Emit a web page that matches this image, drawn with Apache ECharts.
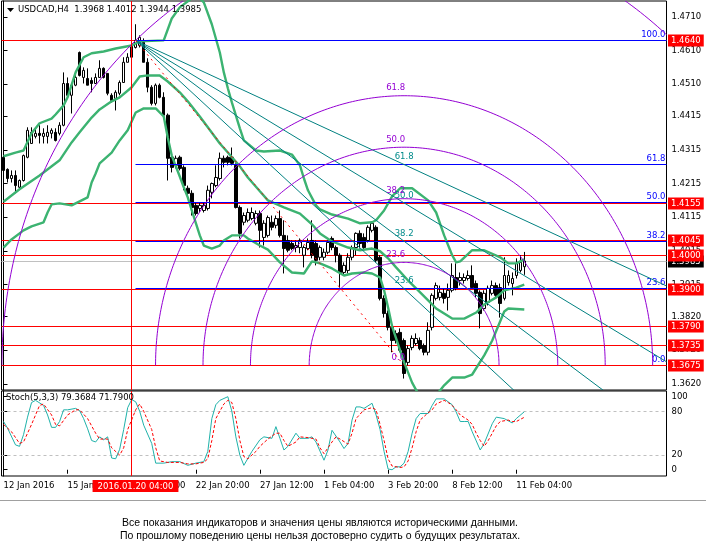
<!DOCTYPE html>
<html><head><meta charset="utf-8">
<script src="https://cdn.jsdelivr.net/npm/echarts@6/dist/echarts.min.js"></script>
<style>html,body{margin:0;padding:0;background:#fff}#c{width:706px;height:552px}</style>
</head><body><div id="c"></div>
<script>
// ---- data ----
const symbolName = 'USDCAD,H4';
const open = [1.4293,1.4257,1.4230,1.4239,1.4204,1.4224,1.4293,1.4334,1.4355,1.4364,1.4355,1.4355,1.4364,1.4367,1.4364,1.4388,1.4512,1.4477,1.4507,1.4604,1.4530,1.4527,1.4521,1.4512,1.4530,1.4557,1.4542,1.4477,1.4468,1.4483,1.4515,1.4575,1.4590,1.4619,1.4625,1.4634,1.4575,1.4501,1.4453,1.4507,1.4471,1.4418,1.4293,1.4269,1.4293,1.4263,1.4201,1.4186,1.4150,1.4141,1.4135,1.4141,1.4189,1.4209,1.4230,1.4290,1.4293,1.4293,1.4269,1.4144,1.4100,1.4106,1.4111,1.4097,1.4126,1.4055,1.4061,1.4100,1.4091,1.4111,1.4061,1.4046,1.4037,1.4025,1.4025,1.4002,1.4022,1.4046,1.4037,1.3996,1.3996,1.4011,1.4052,1.4025,1.4002,1.3951,1.3957,1.3996,1.4025,1.4067,1.4055,1.4046,1.4076,1.4085,1.3996,1.3874,1.3829,1.3788,1.3770,1.3773,1.3749,1.3684,1.3728,1.3740,1.3749,1.3734,1.3714,1.3788,1.3874,1.3877,1.3889,1.3877,1.3898,1.3936,1.3927,1.3927,1.3933,1.3942,1.3918,1.3892,1.3844,1.3862,1.3889,1.3912,1.3906,1.3874,1.3921,1.3918,1.3942,1.3957,1.3968];
const high = [1.4298,1.4260,1.4254,1.4254,1.4227,1.4301,1.4382,1.4382,1.4382,1.4388,1.4379,1.4388,1.4379,1.4379,1.4397,1.4545,1.4530,1.4512,1.4545,1.4607,1.4560,1.4557,1.4530,1.4542,1.4581,1.4560,1.4542,1.4483,1.4492,1.4521,1.4590,1.4602,1.4646,1.4688,1.4655,1.4646,1.4587,1.4507,1.4512,1.4512,1.4486,1.4423,1.4298,1.4298,1.4298,1.4269,1.4209,1.4195,1.4159,1.4159,1.4159,1.4209,1.4218,1.4269,1.4307,1.4298,1.4298,1.4322,1.4275,1.4150,1.4129,1.4141,1.4144,1.4135,1.4135,1.4106,1.4120,1.4120,1.4120,1.4135,1.4106,1.4061,1.4046,1.4046,1.4052,1.4031,1.4052,1.4106,1.4046,1.4031,1.4022,1.4046,1.4058,1.4031,1.4008,1.3981,1.4008,1.4031,1.4070,1.4076,1.4067,1.4091,1.4103,1.4091,1.4002,1.3883,1.3838,1.3794,1.3779,1.3785,1.3755,1.3734,1.3764,1.3770,1.3758,1.3740,1.3803,1.3889,1.3921,1.3912,1.3904,1.3918,1.3978,1.3978,1.3951,1.3948,1.3957,1.3972,1.3927,1.3898,1.3898,1.3912,1.3927,1.3921,1.3918,1.3996,1.3957,1.3951,1.3993,1.4002,1.4012];
const low = [1.4248,1.4218,1.4218,1.4186,1.4198,1.4221,1.4290,1.4334,1.4349,1.4334,1.4334,1.4334,1.4349,1.4340,1.4358,1.4385,1.4471,1.4423,1.4504,1.4533,1.4512,1.4507,1.4486,1.4512,1.4530,1.4527,1.4477,1.4456,1.4432,1.4477,1.4515,1.4575,1.4587,1.4616,1.4619,1.4575,1.4486,1.4447,1.4447,1.4468,1.4418,1.4224,1.4248,1.4260,1.4254,1.4195,1.4171,1.4120,1.4120,1.4129,1.4129,1.4135,1.4171,1.4204,1.4224,1.4263,1.4269,1.4269,1.4141,1.4052,1.4091,1.4100,1.4106,1.4091,1.4025,1.4031,1.4055,1.4076,1.4082,1.4055,1.3948,1.4011,1.4017,1.4011,1.4008,1.3966,1.4017,1.3993,1.3972,1.3987,1.3987,1.4005,1.4017,1.3981,1.3906,1.3942,1.3948,1.3987,1.4002,1.4022,1.4017,1.4040,1.4070,1.3981,1.3868,1.3817,1.3779,1.3714,1.3740,1.3714,1.3636,1.3675,1.3720,1.3734,1.3720,1.3705,1.3705,1.3779,1.3868,1.3868,1.3859,1.3838,1.3892,1.3898,1.3912,1.3918,1.3927,1.3904,1.3877,1.3785,1.3838,1.3853,1.3883,1.3877,1.3817,1.3868,1.3912,1.3883,1.3933,1.3951,1.3944];
const close = [1.4254,1.4230,1.4239,1.4209,1.4224,1.4298,1.4373,1.4367,1.4364,1.4358,1.4364,1.4367,1.4373,1.4343,1.4388,1.4512,1.4477,1.4507,1.4530,1.4536,1.4551,1.4507,1.4512,1.4530,1.4557,1.4530,1.4483,1.4462,1.4486,1.4515,1.4575,1.4590,1.4625,1.4640,1.4649,1.4575,1.4501,1.4453,1.4507,1.4471,1.4418,1.4290,1.4263,1.4290,1.4260,1.4209,1.4186,1.4144,1.4126,1.4150,1.4150,1.4195,1.4215,1.4233,1.4290,1.4278,1.4278,1.4275,1.4144,1.4067,1.4120,1.4129,1.4129,1.4126,1.4076,1.4097,1.4114,1.4085,1.4111,1.4061,1.4022,1.4017,1.4022,1.4031,1.4046,1.4025,1.4040,1.4002,1.3987,1.4025,1.4011,1.4040,1.4025,1.4002,1.3951,1.3972,1.3996,1.4025,1.4067,1.4037,1.4025,1.4085,1.4097,1.3987,1.3874,1.3829,1.3788,1.3749,1.3749,1.3720,1.3651,1.3725,1.3755,1.3755,1.3725,1.3714,1.3779,1.3883,1.3912,1.3892,1.3874,1.3898,1.3942,1.3904,1.3936,1.3936,1.3942,1.3906,1.3889,1.3829,1.3889,1.3904,1.3912,1.3883,1.3859,1.3942,1.3942,1.3933,1.3978,1.3981,1.3985];

// Bollinger bands: [bar index, price]
const bbUpper = [[0,1.4296],[3,1.4307],[5,1.4313],[7,1.4364],[9,1.4394],[12,1.4408],[13,1.4420],[15,1.4447],[16,1.4471],[18,1.4545],[20,1.4590],[22,1.4602],[25,1.4607],[28,1.4616],[32,1.4625],[34,1.4637],[40,1.4640],[42,1.4705],[44,1.4738],[47,1.4765],[49,1.4765],[50,1.4753],[52,1.4688],[54,1.4604],[55,1.4545],[56,1.4498],[57,1.4456],[59,1.4379],[60,1.4343],[63,1.4313],[65,1.4310],[69,1.4313],[72,1.4301],[74,1.4269],[75,1.4230],[76,1.4195],[78,1.4150],[79,1.4138],[82,1.4123],[86,1.4111],[89,1.4097],[92,1.4100],[93,1.4106],[95,1.4135],[97,1.4177],[99,1.4201],[102,1.4201],[106,1.4165],[108,1.4129],[110,1.4061],[112,1.4002],[113,1.3981],[114,1.3984],[117,1.4017],[120,1.4017],[124,1.3996],[126,1.3978],[128,1.3978],[130,1.3990]];
const bbMiddle = [[0,1.4161],[4,1.4198],[9,1.4239],[14,1.4284],[17,1.4337],[19,1.4367],[22,1.4411],[24,1.4435],[27,1.4459],[29,1.4471],[32,1.4501],[34,1.4533],[36,1.4536],[39,1.4536],[41,1.4518],[44,1.4486],[46,1.4459],[49,1.4414],[51,1.4382],[54,1.4334],[56,1.4307],[59,1.4266],[61,1.4233],[64,1.4192],[66,1.4165],[70,1.4144],[74,1.4126],[77,1.4094],[79,1.4067],[82,1.4043],[86,1.4025],[89,1.4017],[92,1.4022],[94,1.4014],[96,1.3993],[98,1.3966],[101,1.3927],[103,1.3904],[106,1.3868],[108,1.3844],[112,1.3814],[115,1.3814],[118,1.3832],[120,1.3856],[123,1.3877],[125,1.3898],[128,1.3906],[130,1.3915]];
const bbLower = [[0,1.4025],[2,1.4049],[5,1.4076],[7,1.4088],[10,1.4100],[11,1.4129],[12,1.4153],[14,1.4156],[17,1.4150],[19,1.4162],[21,1.4174],[22,1.4218],[23,1.4245],[24,1.4275],[27,1.4307],[29,1.4343],[31,1.4373],[33,1.4426],[35,1.4438],[38,1.4438],[40,1.4414],[41,1.4352],[42,1.4298],[44,1.4236],[45,1.4204],[46,1.4174],[47,1.4135],[49,1.4061],[50,1.4031],[52,1.4022],[54,1.4031],[55,1.4046],[57,1.4061],[60,1.4061],[61,1.4052],[64,1.4031],[66,1.4019],[69,1.3981],[72,1.3951],[75,1.3948],[77,1.3984],[79,1.3978],[82,1.3963],[85,1.3942],[87,1.3948],[90,1.3951],[92,1.3948],[94,1.3936],[95,1.3898],[96,1.3847],[97,1.3791],[100,1.3684],[102,1.3624],[104,1.3580],[106,1.3565],[108,1.3586],[110,1.3616],[112,1.3639],[115,1.3639],[117,1.3648],[120,1.3705],[122,1.3749],[125,1.3835],[126,1.3844],[130,1.3841]];

// Stochastic (5,3,3): [bar index, value]
const stochK = [[0,66],[1,57],[3,34],[4,32],[5,48],[6,72],[7,92],[8,95],[10,88],[11,75],[12,58],[13,58],[14,66],[15,82],[16,82],[18,84],[19,81],[20,70],[21,56],[22,40],[23,38],[24,45],[25,41],[26,45],[27,16],[28,15],[29,28],[30,55],[31,85],[32,96],[33,93],[34,80],[35,61],[37,36],[38,9],[40,9],[42,11],[44,11],[46,6],[48,9],[50,11],[51,25],[52,70],[53,89],[54,95],[56,100],[57,80],[58,45],[59,20],[60,6],[62,25],[64,41],[65,45],[67,43],[68,59],[69,43],[70,27],[71,32],[73,50],[74,43],[76,43],[77,45],[78,38],[80,13],[81,27],[82,54],[84,38],[85,29],[86,36],[87,68],[88,86],[89,86],[90,84],[92,91],[93,75],[94,55],[95,25],[96,1],[97,0],[98,4],[99,4],[100,9],[101,25],[102,50],[103,70],[104,77],[106,77],[107,88],[108,97],[110,97],[111,93],[112,89],[113,79],[114,66],[115,66],[116,66],[117,52],[119,27],[120,36],[122,63],[123,72],[125,70],[127,64],[128,70],[130,79.37]];
const stochD = [[0,62],[2,52],[4,36],[5,38],[7,62],[9,88],[10,90],[12,75],[13,62],[14,60],[16,75],[18,82],[19,82],[21,70],[23,50],[24,42],[26,42],[27,30],[29,20],[30,30],[31,55],[33,82],[34,90],[35,80],[37,55],[38,30],[39,12],[41,10],[44,10],[46,8],[48,8],[50,10],[51,15],[52,40],[53,70],[55,90],[56,95],[57,92],[58,70],[59,40],[60,18],[61,15],[63,25],[64,32],[66,42],[68,50],[69,50],[70,40],[71,32],[73,38],[74,45],[76,44],[78,42],[79,30],[80,22],[82,38],[83,45],[84,42],[86,35],[87,50],[88,70],[90,82],[92,85],[93,82],[94,62],[95,40],[96,15],[97,5],[99,3],[100,4],[101,12],[102,30],[103,52],[104,68],[106,78],[107,82],[108,90],[110,95],[111,92],[112,88],[113,82],[114,75],[116,68],[117,62],[118,50],[119,40],[120,32],[121,40],[122,50],[123,60],[124,66],[126,68],[127,66],[128,66],[130,71.79]];
const stochLevels = [80, 20];

// horizontal price levels
const redLevels = [1.4640, 1.4155, 1.4045, 1.4000, 1.3900, 1.3790, 1.3735, 1.3675];
const bidLevel = 1.3985;

// Fibonacci tools anchors: (bar index, price)
const fibP1 = [33, 1.4640];
const fibP2 = [100, 1.3675];
const fibRetrLevels = [0, 0.236, 0.382, 0.5, 0.618, 1.0];
const fibRetrLabels = ['0.0', '23.6', '38.2', '50.0', '61.8', '100.0'];
const fanLevels = [0.236, 0.382, 0.5, 0.618];
const fanLabels = ['23.6', '38.2', '50.0', '61.8'];
const arcLevels = [0, 0.236, 0.382, 0.5, 0.618, 1.0];
const arcLabels = ['0.0', '23.6', '38.2', '50.0', '61.8', '100.0'];
const arcAspect = 1.085;

// axes
const slotCount = 166;
const crossIndex = 32;
const crossLabel = '2016.01.20 04:00';
const xTickIndex = [0, 16, 32, 48, 64, 80, 96, 112, 128];
const xTickLabels = ['12 Jan 2016', '15 Jan 12:00', '20 Jan 04:00', '22 Jan 20:00', '27 Jan 12:00', '1 Feb 04:00', '3 Feb 20:00', '8 Feb 12:00', '11 Feb 04:00'];
const priceTicks = [1.4710, 1.4610, 1.4510, 1.4415, 1.4315, 1.4215, 1.4115, 1.4015, 1.3915, 1.3820, 1.3720, 1.3620];
const stochTicks = [0, 20, 80, 100];
const stochHeader = 'Stoch(5,3,3) 79.3684 71.7900';
const disclaimer = ['Все показания индикаторов и значения цены являются историческими данными.',
                    'По прошлому поведению цены нельзя достоверно судить о будущих результатах.'];

// ---- build ----
const FONT = 'DejaVu Sans';
const FS = 8.5;
const FONTSTR = FS + 'px ' + FONT;
const slots = Array.from({length: slotCount}, (_, i) => String(i));
const candles = open.map((o, i) => [o, close[i], low[i], high[i]]);
const last = open.length - 1;
const header = symbolName + '  ' + [open[last], high[last], low[last], close[last]].map(v => v.toFixed(4)).join(' ');
const fibRange = fibP1[1] - fibP2[1];
const isTick = (idx) => xTickIndex.indexOf(idx) >= 0;
const snap = v => Math.round(v - 0.5) + 0.5;

const chart = echarts.init(document.getElementById('c'));

function clipRect(params) {
  const cs = params.coordSys;
  return {type: 'rect', shape: {x: cs.x, y: cs.y, width: cs.width, height: cs.height}};
}

// full-width horizontal level with price box on the axis
function makeLevelRenderer(lineColor, boxColor) {
  return function (params, api) {
    const cs = params.coordSys;
    const v = api.value(1);
    const y = snap(api.coord([0, v])[1]);
    return {type: 'group', children: [
      {type: 'line', shape: {x1: cs.x, y1: y, x2: cs.x + cs.width, y2: y}, style: {stroke: lineColor, lineWidth: 1}},
      {type: 'text', x: cs.x + cs.width + 1.5, y: y,
       style: {text: v.toFixed(4), fill: '#fff', backgroundColor: boxColor, padding: [2, 3, 1, 3], font: FONTSTR,
               align: 'left', verticalAlign: 'middle', textAlign: 'left', textVerticalAlign: 'middle'}}
    ]};
  };
}

function renderRetr(params, api) {
  const cs = params.coordSys;
  const pt = api.coord([api.value(0), api.value(1)]);
  const y = snap(pt[1]);
  const x0 = snap(pt[0]);
  const x1 = cs.x + cs.width;
  const children = [];
  if (fibRetrLevels[params.dataIndex] > 0) {
    children.push({type: 'line', shape: {x1: x0, y1: y, x2: x1, y2: y}, style: {stroke: '#0000ff', lineWidth: 1}});
  }
  children.push({type: 'text', x: x1 - 1, y: y - 1,
     style: {text: fibRetrLabels[params.dataIndex], fill: '#0000ff', font: FONTSTR,
             align: 'right', verticalAlign: 'bottom', textAlign: 'right', textVerticalAlign: 'bottom'}});
  return {type: 'group', children};
}

function renderCross(withLabel) {
  return function (params, api) {
    const cs = params.coordSys;
    const x = snap(api.coord([crossIndex, api.value(1)])[0]);
    const children = [{type: 'line', shape: {x1: x, y1: cs.y, x2: x, y2: cs.y + cs.height},
                       style: {stroke: '#ff0000', lineWidth: 1}}];
    if (withLabel) {
      children.push({type: 'text', x: x + 4, y: cs.y + cs.height + 4,
        style: {text: crossLabel, fill: '#fff', backgroundColor: '#ff0000', padding: [2, 5, 1, 5], font: FONTSTR,
                align: 'center', verticalAlign: 'top', textAlign: 'center', textVerticalAlign: 'top'}});
    }
    return {type: 'group', children};
  };
}

function renderArc(params, api) {
  const lvl = api.value(2);
  const lbl = arcLabels[params.dataIndex];
  const c = api.coord([fibP2[0], fibP2[1]]);
  const p = api.coord([fibP1[0], fibP1[1]]);
  const dx = c[0] - p[0], dy = (c[1] - p[1]) / arcAspect;
  const R = Math.sqrt(dx * dx + dy * dy);
  const rx = R * lvl, ry = R * arcAspect * lvl;
  const children = [];
  if (lvl > 0) {
    const pts = [];
    for (let k = 0; k <= 240; k++) {
      const t = Math.PI * k / 240;
      pts.push([c[0] + rx * Math.cos(t), c[1] - ry * Math.sin(t)]);
    }
    children.push({type: 'polyline', shape: {points: pts}, clipPath: clipRect(params),
      style: {stroke: '#9400d3', lineWidth: 1, fill: null}});
  }
  children.push({type: 'text', x: c[0] + 1, y: c[1] - ry - 3,
    style: {text: lbl, fill: '#9400d3', font: FONTSTR, align: 'right', verticalAlign: 'bottom',
            textAlign: 'right', textVerticalAlign: 'bottom'}});
  return {type: 'group', children};
}

function renderFan(params, api) {
  const lvl = api.value(2);
  const lbl = fanLabels[params.dataIndex];
  const p = api.coord([fibP1[0], fibP1[1]]);
  const t = api.coord([fibP2[0], fibP2[1] + lvl * fibRange]);
  const end = [p[0] + (t[0] - p[0]) * 4, p[1] + (t[1] - p[1]) * 4];
  return {type: 'group', children: [
    {type: 'line', shape: {x1: p[0], y1: p[1], x2: end[0], y2: end[1]}, clipPath: clipRect(params),
     style: {stroke: '#008080', lineWidth: 1}},
    {type: 'text', x: t[0], y: t[1] - 3,
     style: {text: lbl, fill: '#008b8b', font: FONTSTR, align: 'center', verticalAlign: 'bottom',
             textAlign: 'center', textVerticalAlign: 'bottom'}}
  ]};
}

const bandStyle = {color: '#3cb371', width: 2.4};
const labelBase = {fontFamily: FONT, fontSize: FS};

const option = {
  animation: false,
  backgroundColor: '#ffffff',
  textStyle: {fontFamily: FONT},
  grid: [
    {left: 1.5, right: 39.5, top: 1, height: 389, show: true, borderColor: '#000', borderWidth: 1},
    {left: 1.5, right: 39.5, top: 391, height: 85, show: true, borderColor: '#000', borderWidth: 1}
  ],
  xAxis: [
    {type: 'category', gridIndex: 0, data: slots, boundaryGap: true, show: false},
    {type: 'value', gridIndex: 0, min: -0.5, max: slotCount - 0.5, show: false},
    {type: 'category', gridIndex: 1, data: slots, boundaryGap: true,
     axisLine: {show: false},
     axisTick: {show: true, interval: isTick, alignWithLabel: true, length: 4, lineStyle: {color: '#000'}},
     axisLabel: Object.assign({interval: isTick, formatter: (v, i) => xTickLabels[xTickIndex.indexOf(i)] || '',
       align: 'left', margin: 5, color: '#000'}, labelBase),
     splitLine: {show: false}},
    {type: 'value', gridIndex: 1, min: -0.5, max: slotCount - 0.5, show: false}
  ],
  yAxis: [
    {type: 'value', gridIndex: 0, position: 'right', min: 1.3602, max: 1.4757,
     axisLine: {show: true, lineStyle: {color: '#000'}},
     axisTick: {show: true, customValues: priceTicks, length: 4, lineStyle: {color: '#000'}},
     axisLabel: Object.assign({customValues: priceTicks, formatter: v => v.toFixed(4), color: '#000', margin: 5}, labelBase),
     splitLine: {show: false}},
    {type: 'value', gridIndex: 1, position: 'right', min: -8.6, max: 107.8,
     axisLine: {show: true, lineStyle: {color: '#000'}},
     axisTick: {show: true, customValues: stochTicks, length: 4, lineStyle: {color: '#000'}},
     axisLabel: Object.assign({customValues: stochTicks, formatter: v => String(v), color: '#000', margin: 5}, labelBase),
     splitLine: {show: false}}
  ],
  series: [
    // current price (silver) line with black box
    {type: 'custom', xAxisIndex: 1, yAxisIndex: 0, z: 3, clip: false,
     data: [[0, bidLevel]], renderItem: makeLevelRenderer('#c0c0c0', '#000000')},
    // red horizontal levels with red boxes
    {type: 'custom', xAxisIndex: 1, yAxisIndex: 0, z: 3, clip: false,
     data: redLevels.map(v => [0, v]), renderItem: makeLevelRenderer('#ff0000', '#ff0000')},
    // candles
    {type: 'candlestick', xAxisIndex: 0, yAxisIndex: 0, data: candles, barWidth: 3, z: 4,
     itemStyle: {color: '#ffffff', color0: '#000000', borderColor: '#000000', borderColor0: '#000000', borderWidth: 1}},
    // Bollinger bands
    {type: 'line', xAxisIndex: 1, yAxisIndex: 0, data: bbUpper, symbol: 'none', lineStyle: bandStyle, z: 5},
    {type: 'line', xAxisIndex: 1, yAxisIndex: 0, data: bbMiddle, symbol: 'none', lineStyle: bandStyle, z: 5},
    {type: 'line', xAxisIndex: 1, yAxisIndex: 0, data: bbLower, symbol: 'none', lineStyle: bandStyle, z: 5},
    // Fibonacci retracement (blue) from anchor 1 to right edge
    {type: 'custom', xAxisIndex: 1, yAxisIndex: 0, z: 6, clip: false,
     data: fibRetrLevels.map(l => [fibP1[0], fibP2[1] + l * fibRange]), renderItem: renderRetr},
    // red dashed trend line of the Fibonacci tool
    {type: 'line', xAxisIndex: 1, yAxisIndex: 0, data: [fibP1, fibP2], symbol: 'none', z: 6,
     lineStyle: {color: '#ff0000', width: 1, type: [2, 4]}},
    // Fibonacci fan
    {type: 'custom', xAxisIndex: 1, yAxisIndex: 0, clip: false, z: 6,
     data: fanLevels.map(l => [fibP1[0], fibP1[1], l]), renderItem: renderFan},
    // Fibonacci arcs
    {type: 'custom', xAxisIndex: 1, yAxisIndex: 0, clip: false, z: 6,
     data: arcLevels.map(l => [fibP1[0], fibP1[1], l]), renderItem: renderArc},
    // crosshair vertical in main panel
    {type: 'custom', xAxisIndex: 1, yAxisIndex: 0, clip: false, z: 7,
     data: [[crossIndex, fibP1[1]]], renderItem: renderCross(false)},
    // stochastic
    {type: 'line', xAxisIndex: 3, yAxisIndex: 1, data: stochK, symbol: 'none', z: 5,
     lineStyle: {color: '#20b2aa', width: 1},
     markLine: {silent: true, symbol: 'none', animation: false, label: {show: false},
       lineStyle: {color: '#c0c0c0', width: 1, type: [3, 3]}, data: stochLevels.map(v => ({yAxis: v}))}},
    {type: 'line', xAxisIndex: 3, yAxisIndex: 1, data: stochD, symbol: 'none', z: 5,
     lineStyle: {color: '#ff0000', width: 1, type: [3, 2]}},
    // crosshair vertical in stochastic panel with time label
    {type: 'custom', xAxisIndex: 3, yAxisIndex: 1, clip: false, z: 7,
     data: [[crossIndex, 50]], renderItem: renderCross(true)}
  ],
  graphic: [
    {type: 'polygon', shape: {points: [[7, 8], [14, 8], [10.5, 12]]}, style: {fill: '#000'}, z: 10},
    {type: 'text', left: 18, top: 5, z: 10, style: {text: header, fill: '#000', font: FONTSTR}},
    {type: 'text', left: 6, top: 393, z: 10, style: {text: stochHeader, fill: '#000', font: FONTSTR}},
    {type: 'line', shape: {x1: 0, y1: 500.5, x2: 706, y2: 500.5}, style: {stroke: '#a0a0a0', lineWidth: 1}},
    {type: 'text', x: 320, y: 523, style: {text: disclaimer[0], fill: '#000', font: '10.5px Liberation Sans', align: 'center', verticalAlign: 'middle', textAlign: 'center', textVerticalAlign: 'middle'}},
    {type: 'text', x: 320, y: 536, style: {text: disclaimer[1], fill: '#000', font: '10.5px Liberation Sans', align: 'center', verticalAlign: 'middle', textAlign: 'center', textVerticalAlign: 'middle'}}
  ]
};
chart.setOption(option);
</script>
</body></html>
